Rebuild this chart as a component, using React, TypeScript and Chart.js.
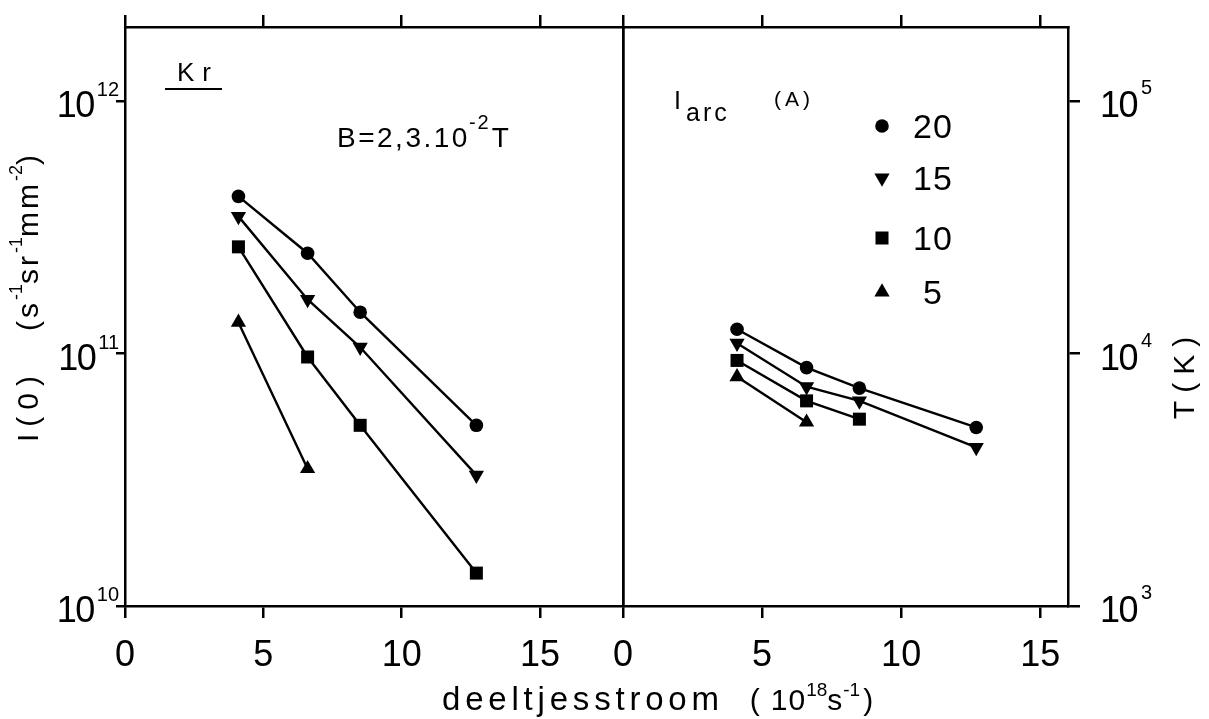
import React, { useEffect, useRef } from 'react';
import { Chart, registerables } from 'chart.js';

Chart.register(...registerables);

const W = 1209;
const H = 719;
const FONT = '"Liberation Sans", Arial, sans-serif';

// ---------- data ----------
// particle flow (deeltjesstroom), 10^18 s^-1
const flow = [4.1, 6.6, 8.5, 12.7];
// arc currents (A)
const currents = ['20', '15', '10', '5'];
// left panel: I(0) in s^-1 sr^-1 mm^-2
const intensity20 = [4.2e11, 2.5e11, 1.46e11, 5.2e10];
const intensity15 = [3.5e11, 1.64e11, 1.06e11, 3.3e10];
const intensity10 = [2.65e11, 9.7e10, 5.2e10, 1.35e10];
const intensity5 = [1.33e11, 3.5e10];
// right panel: T in K
const temp20 = [12500, 8800, 7300, 5100];
const temp15 = [11000, 7400, 6500, 4250];
const temp10 = [9400, 6500, 5500];
const temp5 = [8100, 5350];
// axes
const xTicks = [0, 5, 10, 15];
const leftXMax = 18;
const rightXMax = 16;
const leftYTicks = [1e10, 1e11, 1e12];
const leftYMin = 1e10;
const leftYMax = 1.97e12;
const rightYTicks = [1e3, 1e4, 1e5];
const rightYMin = 1e3;
const rightYMax = 1.97e5;

// ---------- layout ----------
const PLOT_TOP = 27;
const PLOT_BOTTOM = 606;
const LEFT_EDGE = 125;
const DIVIDER = 623;
const RIGHT_EDGE = 1068;
const LW = 2.5;

type Run = { t: string; size: number; dy?: number; ls?: number; gap?: number };

function setFont(ctx: any, r: Run) {
  ctx.font = `${r.size}px ${FONT}`;
  ctx.letterSpacing = `${r.ls || 0}px`;
}
function runsWidth(ctx: any, runs: Run[]) {
  let w = 0;
  for (const r of runs) {
    setFont(ctx, r);
    w += (r.gap || 0) + ctx.measureText(r.t).width;
  }
  return w;
}
function drawRuns(ctx: any, x: number, y: number, runs: Run[], align: 'left' | 'center' | 'right') {
  const w = runsWidth(ctx, runs);
  let cx = align === 'center' ? x - w / 2 : align === 'right' ? x - w : x;
  ctx.textAlign = 'left';
  ctx.textBaseline = 'alphabetic';
  ctx.fillStyle = '#000';
  for (const r of runs) {
    setFont(ctx, r);
    cx += r.gap || 0;
    ctx.fillText(r.t, cx, y + (r.dy || 0));
    cx += ctx.measureText(r.t).width;
  }
  ctx.letterSpacing = '0px';
}

const markerStyles = [
  { pointStyle: 'circle', rotation: 0, radius: 6.8 },
  { pointStyle: 'triangle', rotation: 180, radius: 8.8 },
  { pointStyle: 'rect', rotation: 0, radius: 9.2 },
  { pointStyle: 'triangle', rotation: 0, radius: 8.8 },
];

function drawMarker(ctx: any, i: number, x: number, y: number) {
  const m = markerStyles[i];
  const r = m.radius;
  ctx.beginPath();
  if (m.pointStyle === 'circle') {
    ctx.arc(x, y, r, 0, Math.PI * 2);
  } else if (m.pointStyle === 'rect') {
    const s = r * Math.SQRT1_2;
    ctx.rect(x - s, y - s, 2 * s, 2 * s);
  } else {
    let a = (m.rotation * Math.PI) / 180;
    for (let k = 0; k < 3; k++) {
      const px = x + Math.sin(a) * r;
      const py = y - Math.cos(a) * r;
      if (k === 0) ctx.moveTo(px, py);
      else ctx.lineTo(px, py);
      a += (2 * Math.PI) / 3;
    }
    ctx.closePath();
  }
  ctx.fillStyle = '#000';
  ctx.fill();
}

function makeDatasets(series: number[][]) {
  return series.map((vals, i) => ({
    label: currents[i] + ' A',
    data: vals.map((v, j) => ({ x: flow[j], y: v })),
    borderColor: '#000',
    backgroundColor: '#000',
    borderWidth: 2.4,
    pointStyle: markerStyles[i].pointStyle,
    pointRotation: markerStyles[i].rotation,
    pointRadius: markerStyles[i].radius,
    pointHoverRadius: markerStyles[i].radius,
    pointBackgroundColor: '#000',
    pointBorderColor: '#000',
    pointBorderWidth: 0,
    tension: 0,
    fill: false,
  }));
}

const setTicks = (vals: number[]) => (s: any) => {
  s.ticks = vals.map((v) => ({ value: v }));
};

function xAxes(max: number) {
  const grid = { display: true, drawOnChartArea: false, drawTicks: true, tickLength: 12, color: '#000', lineWidth: LW };
  const border = { display: true, color: '#000', width: LW };
  return {
    x: {
      type: 'linear',
      position: 'bottom',
      min: 0,
      max,
      afterBuildTicks: setTicks(xTicks),
      afterFit: (s: any) => { s.height = H - PLOT_BOTTOM; },
      grid,
      border,
      ticks: { color: '#000', font: { family: FONT, size: 36 }, padding: 16, maxRotation: 0, autoSkip: false, stepSize: 5 },
    },
    xTop: {
      type: 'linear',
      position: 'top',
      min: 0,
      max,
      afterBuildTicks: setTicks(xTicks),
      afterFit: (s: any) => { s.height = PLOT_TOP; },
      grid,
      border,
      ticks: { display: false, stepSize: 5 },
    },
  };
}

const xTitleRuns: Run[] = [
  { t: 'deeltjesstroom', size: 33, ls: 4.8 },
  { t: '(', size: 30, gap: 26 },
  { t: '10', size: 30, gap: 11, ls: 1 },
  { t: '18', size: 19, dy: -14, gap: 0 },
  { t: 's', size: 30, gap: 0 },
  { t: '-1', size: 19, dy: -14, gap: 1 },
  { t: ')', size: 30, gap: 3 },
];

const yTitleRuns: Run[] = [
  { t: 'I(0)', size: 30, ls: 7 },
  { t: '(s', size: 30, ls: 3, gap: 38 },
  { t: '-1', size: 18, dy: -16 },
  { t: 'sr', size: 30, ls: 3 },
  { t: '-1', size: 18, dy: -16 },
  { t: 'mm', size: 30, ls: 3 },
  { t: '-2', size: 18, dy: -16 },
  { t: ')', size: 30 },
];

const leftDeco = {
  id: 'leftDeco',
  afterDraw(chart: any) {
    const ctx = chart.ctx;
    ctx.save();
    const ys = chart.scales.y;
    for (const v of leftYTicks) {
      const py = ys.getPixelForValue(v);
      const e = String(Math.round(Math.log10(v)));
      drawRuns(ctx, 119, py + 16, [{ t: '10', size: 36, ls: -1.5 }, { t: e, size: 20, dy: -21, gap: 3 }], 'right');
    }
    ctx.save();
    ctx.translate(38, 442);
    ctx.rotate(-Math.PI / 2);
    drawRuns(ctx, 0, 0, yTitleRuns, 'left');
    ctx.restore();
    drawRuns(ctx, 177, 81, [{ t: 'Kr', size: 26, ls: 8 }], 'left');
    ctx.fillStyle = '#000';
    ctx.fillRect(165, 88, 57, 2);
    drawRuns(ctx, 337, 147, [
      { t: 'B=2,3.10', size: 28, ls: 2.5 },
      { t: '-2', size: 20, dy: -18, gap: -1, ls: 2 },
      { t: 'T', size: 28, gap: 1 },
    ], 'left');
    drawRuns(ctx, 442, 710, xTitleRuns, 'left');
    ctx.restore();
  },
};

const rightDeco = {
  id: 'rightDeco',
  afterDraw(chart: any) {
    const ctx = chart.ctx;
    ctx.save();
    const ys = chart.scales.y;
    for (const v of rightYTicks) {
      const py = ys.getPixelForValue(v);
      const e = String(Math.round(Math.log10(v)));
      drawRuns(ctx, 1100, py + 16, [{ t: '10', size: 36, ls: -1.5 }, { t: e, size: 20, dy: -23, gap: 4 }], 'left');
    }
    ctx.save();
    ctx.translate(1194, 378);
    ctx.rotate(-Math.PI / 2);
    drawRuns(ctx, 4, 0, [{ t: 'T(K)', size: 30, ls: 8 }], 'center');
    ctx.restore();
    // legend header
    drawRuns(ctx, 674, 109, [{ t: 'I', size: 25 }], 'left');
    drawRuns(ctx, 686, 121, [{ t: 'arc', size: 25, ls: 3 }], 'left');
    drawRuns(ctx, 774, 106, [{ t: '(A)', size: 21, ls: 4 }], 'left');
    const legendY = [126, 178, 238, 292];
    const legendX = [913, 913, 913, 923];
    currents.forEach((c, i) => {
      drawMarker(ctx, i, 882, legendY[i]);
      drawRuns(ctx, legendX[i], legendY[i] + 12, [{ t: c, size: 34, ls: 1 }], 'left');
    });
    ctx.restore();
  },
};

function baseOptions(scales: any) {
  return {
    responsive: false,
    animation: false,
    devicePixelRatio: 1,
    layout: { padding: 0 },
    events: [],
    plugins: { legend: { display: false }, tooltip: { enabled: false }, title: { display: false } },
    scales,
  };
}

function leftConfig(): any {
  return {
    type: 'line',
    data: { datasets: makeDatasets([intensity20, intensity15, intensity10, intensity5]) },
    options: baseOptions({
      ...xAxes(leftXMax),
      y: {
        type: 'logarithmic',
        position: 'left',
        min: leftYMin,
        max: leftYMax,
        afterBuildTicks: setTicks(leftYTicks),
        afterFit: (s: any) => { s.width = LEFT_EDGE; },
        grid: { display: true, drawOnChartArea: false, drawTicks: true, tickLength: 9, color: '#000', lineWidth: LW },
        border: { display: true, color: '#000', width: LW },
        ticks: { display: false },
      },
      yR: {
        type: 'linear',
        position: 'right',
        min: 0,
        max: 1,
        afterFit: (s: any) => { s.width = W - DIVIDER; },
        grid: { display: false },
        border: { display: true, color: '#000', width: LW },
        ticks: { display: false },
      },
    }),
    plugins: [leftDeco],
  };
}

function rightConfig(): any {
  return {
    type: 'line',
    data: { datasets: makeDatasets([temp20, temp15, temp10, temp5]) },
    options: baseOptions({
      ...xAxes(rightXMax),
      y: {
        type: 'logarithmic',
        position: 'right',
        min: rightYMin,
        max: rightYMax,
        afterBuildTicks: setTicks(rightYTicks),
        afterFit: (s: any) => { s.width = W - RIGHT_EDGE; },
        grid: { display: true, drawOnChartArea: false, drawTicks: true, tickLength: 12, color: '#000', lineWidth: LW },
        border: { display: true, color: '#000', width: LW },
        ticks: { display: false },
      },
      yL: {
        type: 'linear',
        position: 'left',
        min: 0,
        max: 1,
        afterFit: (s: any) => { s.width = DIVIDER; },
        grid: { display: false },
        border: { display: true, color: '#000', width: LW },
        ticks: { display: false },
      },
    }),
    plugins: [rightDeco],
  };
}

export default function App() {
  const leftRef = useRef<HTMLCanvasElement>(null);
  const rightRef = useRef<HTMLCanvasElement>(null);
  useEffect(() => {
    const left = new Chart(leftRef.current as HTMLCanvasElement, leftConfig());
    const right = new Chart(rightRef.current as HTMLCanvasElement, rightConfig());
    return () => {
      left.destroy();
      right.destroy();
    };
  }, []);
  const cstyle: React.CSSProperties = { position: 'absolute', left: 0, top: 0, width: W, height: H };
  return (
    <div style={{ position: 'absolute', left: 0, top: 0, width: W, height: H, background: '#fff', overflow: 'hidden' }}>
      <canvas ref={leftRef} width={W} height={H} style={cstyle} />
      <canvas ref={rightRef} width={W} height={H} style={cstyle} />
    </div>
  );
}
